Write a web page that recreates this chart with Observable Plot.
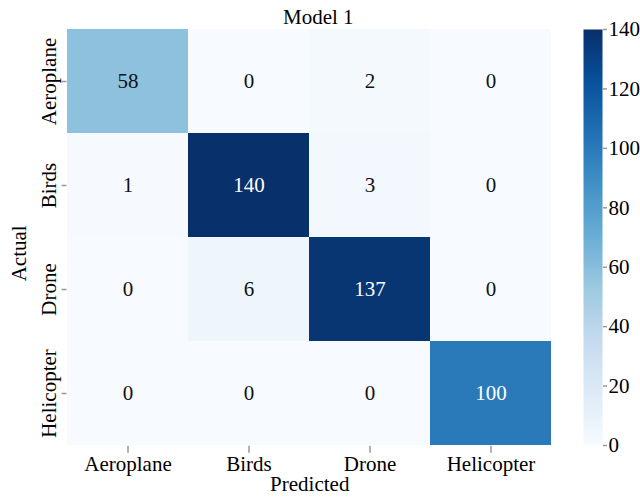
<!DOCTYPE html>
<html>
<head>
<meta charset="utf-8">
<script src="https://cdn.jsdelivr.net/npm/d3@7"></script>
<script src="https://cdn.jsdelivr.net/npm/@observablehq/plot@0.6"></script>
<style>
  body { margin: 0; background: #fff; }
  #chart { position: relative; width: 640px; height: 497px; }
  #chart svg { position: absolute; left: 0; top: 0; }
  #chart svg, #chart svg text, #chart svg g {
    font-family: "Liberation Serif", "DejaVu Serif", serif !important;
  }
</style>
</head>
<body>
<div id="chart"></div>
<script>
// Confusion matrix for Model 1: rows are actual classes, columns predicted classes
const classes = ["Aeroplane", "Birds", "Drone", "Helicopter"];
const aeroplaneRow = [58, 0, 2, 0];
const birdsRow = [1, 140, 3, 0];
const droneRow = [0, 6, 137, 0];
const helicopterRow = [0, 0, 0, 100];
const colorTicks = [0, 20, 40, 60, 80, 100, 120, 140];
const colorMax = 140;
const blues = ["#f7fbff", "#deebf7", "#c6dbef", "#9ecae1", "#6baed6", "#4292c6", "#2171b5", "#08519c", "#08306b"];

const rows = [aeroplaneRow, birdsRow, droneRow, helicopterRow];
const cells = rows.flatMap((row, i) =>
  row.map((value, j) => ({actual: classes[i], predicted: classes[j], value}))
);

const font = '"Liberation Serif", "DejaVu Serif", serif';
const colorScale = {
  type: "linear",
  domain: blues.map((_, i) => (i * colorMax) / (blues.length - 1)),
  range: blues,
  interpolate: "rgb"
};
const darkCell = (d) => d.value > colorMax / 2;

const heatmap = Plot.plot({
  width: 640,
  height: 497,
  marginLeft: 66.5,
  marginRight: 88,
  marginTop: 28,
  marginBottom: 51.3,
  style: {fontFamily: font, fontSize: "21px", color: "#000", background: "#fff", overflow: "visible"},
  x: {domain: classes, padding: 0, axis: null},
  y: {domain: classes, padding: 0, axis: null},
  color: colorScale,
  marks: [
    Plot.cell(cells, {x: "predicted", y: "actual", fill: "value"}),
    Plot.text(cells.filter((d) => !darkCell(d)), {
      x: "predicted", y: "actual", text: (d) => String(d.value), fill: "#111", fontSize: 21, fontFamily: font
    }),
    Plot.text(cells.filter(darkCell), {
      x: "predicted", y: "actual", text: (d) => String(d.value), fill: "#fff", fontSize: 21, fontFamily: font
    }),
    Plot.axisX({
      tickSize: 7, tickPadding: 3, stroke: "#999", strokeWidth: 1.5,
      fill: "#000", fontSize: 21, fontFamily: font, label: null
    }),
    Plot.axisY({tickSize: 5, tickFormat: () => "", stroke: "#999", strokeWidth: 1.5, label: null}),
    Plot.text(classes, {
      y: (d) => d, text: (d) => d, frameAnchor: "left", rotate: -90, textAnchor: "middle",
      dx: -11, lineAnchor: "bottom", fontSize: 21, fontFamily: font, fill: "#000"
    }),
    Plot.text(["Predicted"], {
      text: (d) => d, frameAnchor: "bottom", dy: 45, lineAnchor: "bottom", fontSize: 21, fontFamily: font, fill: "#000"
    }),
    Plot.text(["Actual"], {
      text: (d) => d, frameAnchor: "left", rotate: -90, textAnchor: "middle", dx: -41, dy: 16,
      lineAnchor: "bottom", fontSize: 21, fontFamily: font, fill: "#000"
    }),
    Plot.text(["Model 1"], {
      text: (d) => d, frameAnchor: "top", dx: 8.5, dy: -5, lineAnchor: "bottom", fontSize: 21, fontFamily: font, fill: "#000"
    })
  ]
});

// Vertical colour bar sharing the same colour scale
const colorbar = Plot.plot({
  width: 640,
  height: 497,
  marginLeft: 583,
  marginRight: 38,
  marginTop: 29,
  marginBottom: 52,
  style: {fontFamily: font, fontSize: "21px", color: "#000", background: "none", overflow: "visible"},
  x: {domain: [0, 1], axis: null},
  y: {domain: [0, colorMax], axis: null},
  color: colorScale,
  marks: [
    Plot.raster({x1: 0, x2: 1, y1: 0, y2: colorMax, fill: (x, y) => y, width: 1, height: 416}),
    Plot.axisY(colorTicks, {
      anchor: "right", tickSize: 4, tickPadding: 2, stroke: "#999", strokeWidth: 1.5,
      fill: "#000", fontSize: 21, fontFamily: font, label: null
    })
  ]
});

const chart = document.getElementById("chart");
chart.appendChild(heatmap);
chart.appendChild(colorbar);
</script>
</body>
</html>
